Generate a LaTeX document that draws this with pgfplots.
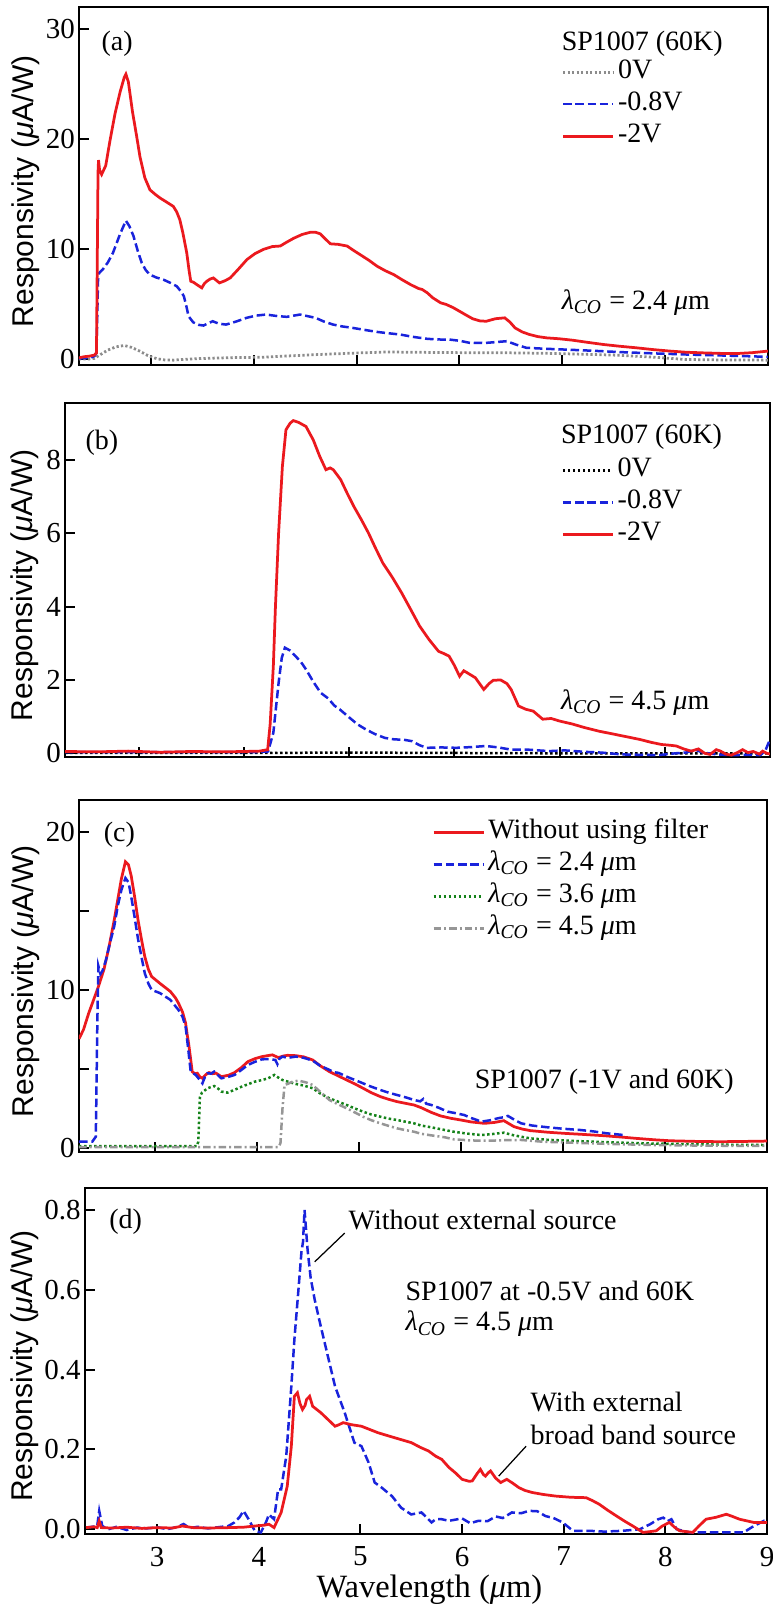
\documentclass[border=0pt]{standalone}
\usepackage{fontspec}
\setmainfont{Liberation Serif}
\setsansfont{Liberation Sans}
\usepackage{pgfplots}
\pgfplotsset{compat=1.18}

\definecolor{cred}{RGB}{235,25,30}
\definecolor{cblue}{RGB}{25,35,220}
\definecolor{cgray}{RGB}{140,140,140}
\definecolor{cgreen}{RGB}{20,130,25}
\definecolor{cgrayb}{RGB}{150,150,150}

\newcommand\fs{\fontsize{11.2}{13.4}\selectfont}
\newcommand\lco{\textit{λ}\textsubscript{\textit{CO}}}

\pgfplotsset{
  panel/.style={
    scale only axis, anchor=south west,
    xmax=9,
    font=\fs\rmfamily,
    /pgf/number format/assume math mode=true,
    tick label style={font=\fontsize{11.6}{13.6}\selectfont\rmfamily},
    tick align=inside, tick pos=left,
    major tick length=4pt,
    every tick/.style={black, line width=0.8pt},
    axis line style={line width=1pt},
    xtick={3,4,5,6,7,8}, xticklabels={},
    yticklabel style={inner xsep=1.5pt},
    ylabel={\fontsize{12}{14}\selectfont\sffamily Responsivity (\textit{μ}A/W)},
    legend image code/.code={\draw[##1] (0pt,0pt) -- (20pt,0pt);},
    legend cell align=left,
    legend style={draw=none, fill=none, inner sep=0pt, row sep=0pt,
      anchor=north west, font=\fs\rmfamily,
      nodes={inner xsep=1.4pt, inner ysep=0pt, text height=9pt, text depth=3.8pt}},
  },
  sred/.style={cred, line width=1.1pt},
  sblue/.style={cblue, line width=1pt, dash pattern=on 3.4pt off 1.5pt},
}

\begin{document}
\begin{tikzpicture}
\path[use as bounding box] (0,0) rectangle (308.8pt,642.8pt);

% (a)
\begin{axis}[panel, at={(31.6pt,496.8pt)}, width=275.6pt, height=143.2pt,
  xmin=2.30, ymin=-0.5, ymax=32, ytick={0,10,20,30}, yticklabels={0,10,20,30},
  ylabel style={at={(axis description cs:-0.077,0.485)}, anchor=center},
  legend style={at={(axis description cs:0.70,0.864)}}]
\addplot[cgray, line width=1.1pt, dash pattern=on 0.9pt off 0.9pt] coordinates {
(2.30,0.05) (2.40,0.05) (2.45,0.1) (2.50,0.4) (2.58,0.85) (2.66,1.15) (2.74,1.27) (2.81,1.1) (2.89,0.76) (2.97,0.35) (3.06,0.06) (3.14,-0.05) (3.22,-0.06) (3.30,0.0) (3.41,0.06) (3.6,0.12) (3.8,0.17) (4.07,0.2) (4.4,0.35) (4.7,0.48) (5.04,0.6) (5.3,0.68) (5.6,0.65) (6.0,0.62) (6.5,0.6) (6.9,0.55) (7.3,0.45) (7.56,0.38) (7.9,0.2) (8.2,0.0) (8.6,-0.05) (9.0,-0.06)};
\addplot[sblue] coordinates {
(2.30,0.1) (2.40,0.15) (2.45,0.3) (2.47,0.6) (2.485,7.2) (2.496,7.86) (2.53,8.16) (2.58,8.8) (2.63,9.67) (2.70,11.4) (2.756,12.6) (2.79,12.1) (2.83,11.2) (2.87,9.9) (2.91,8.77) (2.95,8.1) (2.99,7.7) (3.05,7.45) (3.12,7.25) (3.19,6.95) (3.25,6.65) (3.29,6.2) (3.32,5.74) (3.345,4.8) (3.365,3.93) (3.41,3.38) (3.46,3.15) (3.51,3.08) (3.56,3.3) (3.60,3.47) (3.66,3.25) (3.73,3.17) (3.83,3.45) (3.93,3.78) (4.02,3.98) (4.12,4.08) (4.22,3.95) (4.32,3.87) (4.45,4.08) (4.6,3.78) (4.68,3.45) (4.77,3.17) (4.86,3.0) (4.96,2.87) (5.08,2.68) (5.2,2.5) (5.31,2.38) (5.42,2.27) (5.55,2.05) (5.69,1.87) (5.82,1.81) (5.9,1.81) (6.0,1.7) (6.1,1.51) (6.25,1.5) (6.38,1.6) (6.46,1.66) (6.55,1.35) (6.65,1.06) (6.82,0.98) (7.0,0.91) (7.28,0.8) (7.56,0.67) (7.9,0.55) (8.21,0.45) (8.6,0.35) (9.0,0.24)};
\addplot[sred] coordinates {
(2.30,0.15) (2.35,0.25) (2.40,0.3) (2.45,0.4) (2.47,0.6) (2.485,17.0) (2.49,18.1) (2.50,17.2) (2.52,16.8) (2.56,17.6) (2.60,19.8) (2.65,22.3) (2.70,24.3) (2.74,25.6) (2.756,25.9) (2.78,25.2) (2.82,22.5) (2.86,20.3) (2.893,18.4) (2.94,16.5) (2.99,15.4) (3.04,15.0) (3.088,14.66) (3.15,14.3) (3.217,13.9) (3.25,13.4) (3.28,12.7) (3.31,11.5) (3.348,9.67) (3.37,8.1) (3.387,7.1) (3.415,7.0) (3.445,6.8) (3.494,6.5) (3.52,6.9) (3.543,7.1) (3.575,7.3) (3.607,7.4) (3.666,6.95) (3.72,7.15) (3.77,7.4) (3.85,8.2) (3.933,9.07) (4.01,9.6) (4.095,10.0) (4.18,10.25) (4.257,10.3) (4.32,10.65) (4.387,11.0) (4.47,11.35) (4.55,11.55) (4.60,11.55) (4.647,11.4) (4.70,10.9) (4.745,10.5) (4.82,10.45) (4.907,10.3) (4.97,9.9) (5.037,9.5) (5.12,9.0) (5.2,8.46) (5.28,8.05) (5.362,7.7) (5.44,7.25) (5.524,6.8) (5.6,6.45) (5.638,6.35) (5.687,6.05) (5.74,5.6) (5.817,5.14) (5.87,5.0) (5.94,4.7) (6.0,4.38) (6.07,4.0) (6.13,3.69) (6.2,3.5) (6.26,3.47) (6.35,3.7) (6.44,3.78) (6.49,3.4) (6.54,2.87) (6.61,2.5) (6.68,2.27) (6.76,2.08) (6.85,1.96) (6.97,1.88) (7.1,1.75) (7.25,1.55) (7.4,1.36) (7.56,1.2) (7.72,1.06) (7.88,0.9) (8.05,0.76) (8.2,0.66) (8.37,0.6) (8.55,0.55) (8.7,0.54) (8.85,0.62) (9.0,0.76)};
\legend{0V,-0.8V,-2V}
\node[anchor=center] at (axis cs:2.67,28.7) {(a)};
\node[anchor=west, inner sep=0pt] at (axis cs:6.99,28.7) {SP1007 (60K)};
\node[anchor=west, inner sep=0pt] at (axis cs:6.99,5.15) {\lco{} = 2.4 \textit{μ}m};
\end{axis}

% (b)
\begin{axis}[panel, at={(26pt,340pt)}, width=282pt, height=141.6pt,
  xmin=2.30, ymin=-0.1, ymax=9.55, ytick={0,2,4,6,8}, yticklabels={0,2,4,6,8},
  ylabel style={at={(axis description cs:-0.057,0.485)}, anchor=center},
  legend style={at={(axis description cs:0.7035,0.856)}}]
\addplot[black, line width=1pt, dash pattern=on 1pt off 1pt] coordinates {
(2.30,0.01) (3.0,0.01) (4.0,0.01) (5.0,0.02) (6.0,0.01) (7.0,0.0) (8.0,0.0) (9.0,0.0)};
\addplot[sblue] coordinates {
(2.30,0.03) (3.0,0.03) (3.6,0.03) (4.1,0.03) (4.23,0.05) (4.28,0.56) (4.33,1.92) (4.36,2.6) (4.39,2.88) (4.44,2.8) (4.49,2.65) (4.54,2.5) (4.59,2.29) (4.66,1.95) (4.73,1.65) (4.8,1.5) (4.86,1.3) (4.91,1.2) (5.0,0.98) (5.08,0.79) (5.16,0.65) (5.25,0.52) (5.34,0.42) (5.43,0.38) (5.52,0.37) (5.6,0.33) (5.67,0.22) (5.74,0.15) (5.88,0.16) (6.02,0.15) (6.16,0.17) (6.3,0.2) (6.42,0.16) (6.54,0.1) (6.7,0.1) (6.9,0.06) (7.05,0.08) (7.24,0.04) (7.4,0.02) (7.59,-0.03) (7.75,-0.04) (7.94,-0.05) (8.1,0.0) (8.2,0.02) (8.29,0.1) (8.36,0.02) (8.5,-0.03) (8.63,-0.05) (8.8,-0.04) (8.91,-0.05) (8.96,0.1) (9.0,0.38)};
\addplot[sred] coordinates {
(2.30,0.05) (2.6,0.04) (2.9,0.06) (3.2,0.03) (3.5,0.05) (3.8,0.04) (4.0,0.05) (4.15,0.06) (4.226,0.1) (4.25,0.8) (4.28,2.38) (4.30,4.0) (4.33,6.0) (4.366,7.82) (4.40,8.82) (4.44,9.0) (4.47,9.07) (4.52,9.02) (4.59,8.91) (4.66,8.54) (4.72,8.1) (4.78,7.73) (4.82,7.78) (4.85,7.73) (4.92,7.46) (4.98,7.1) (5.045,6.73) (5.12,6.35) (5.185,6.0) (5.25,5.6) (5.32,5.19) (5.41,4.8) (5.5,4.37) (5.58,3.95) (5.67,3.47) (5.76,3.1) (5.85,2.78) (5.9,2.72) (5.95,2.65) (6.0,2.4) (6.05,2.1) (6.09,2.25) (6.12,2.2) (6.2,2.06) (6.28,1.74) (6.33,1.9) (6.37,1.99) (6.44,2.0) (6.5,1.9) (6.54,1.74) (6.61,1.29) (6.68,1.2) (6.75,1.15) (6.84,0.93) (6.92,0.95) (7.0,0.88) (7.12,0.8) (7.24,0.7) (7.38,0.6) (7.52,0.52) (7.64,0.45) (7.76,0.38) (7.87,0.3) (7.97,0.24) (8.05,0.22) (8.11,0.2) (8.18,0.12) (8.25,0.06) (8.32,0.12) (8.38,0.0) (8.43,-0.03) (8.49,0.1) (8.53,0.06) (8.58,-0.02) (8.63,-0.05) (8.69,0.02) (8.74,0.1) (8.79,0.02) (8.84,0.05) (8.9,-0.02) (8.93,0.06) (8.97,0.0) (9.0,-0.02)};
\legend{0V,-0.8V,-2V}
\node[anchor=center] at (axis cs:2.65,8.46) {(b)};
\node[anchor=west, inner sep=0pt] at (axis cs:7.01,8.63) {SP1007 (60K)};
\node[anchor=west, inner sep=0pt] at (axis cs:7.01,1.39) {\lco{} = 4.5 \textit{μ}m};
\end{axis}

% (c)
\begin{axis}[panel, at={(31.6pt,182pt)}, width=275.2pt, height=140.8pt,
  xmin=2.255, ymin=-0.25, ymax=22, ytick={0,5,10,15,20}, yticklabels={0,,10,,20},
  ylabel style={at={(axis description cs:-0.077,0.485)}, anchor=center},
  legend style={at={(axis description cs:0.5126,0.955)}}]
\addplot[sred] coordinates {
(2.255,6.9) (2.30,7.5) (2.35,8.52) (2.40,9.4) (2.445,10.2) (2.50,11.3) (2.55,12.74) (2.60,14.4) (2.635,15.7) (2.67,17.0) (2.71,18.1) (2.74,17.9) (2.767,17.2) (2.80,15.9) (2.834,14.4) (2.87,13.1) (2.9,12.1) (2.935,11.3) (2.967,10.84) (3.05,10.4) (3.10,10.15) (3.15,9.9) (3.20,9.5) (3.23,9.16) (3.27,8.6) (3.3,7.9) (3.315,7.2) (3.33,6.6) (3.35,5.6) (3.365,4.83) (3.39,4.7) (3.415,4.73) (3.44,4.5) (3.465,4.41) (3.50,4.65) (3.53,4.77) (3.565,4.7) (3.6,4.73) (3.65,4.51) (3.72,4.6) (3.78,4.77) (3.85,5.1) (3.91,5.46) (3.98,5.65) (4.05,5.78) (4.15,5.89) (4.21,5.72) (4.26,5.82) (4.3,5.86) (4.38,5.84) (4.46,5.76) (4.545,5.57) (4.62,5.2) (4.71,4.83) (4.8,4.55) (4.88,4.3) (4.96,4.05) (5.04,3.78) (5.12,3.5) (5.21,3.25) (5.29,3.08) (5.375,2.93) (5.46,2.82) (5.54,2.72) (5.61,2.55) (5.71,2.25) (5.8,2.03) (5.9,1.88) (6.0,1.77) (6.1,1.65) (6.23,1.56) (6.33,1.62) (6.42,1.73) (6.52,1.35) (6.6,1.2) (6.68,1.1) (6.85,1.0) (7.01,0.93) (7.2,0.86) (7.4,0.78) (7.56,0.7) (7.72,0.61) (7.9,0.52) (8.05,0.46) (8.3,0.42) (8.54,0.4) (8.8,0.42) (9.0,0.44)};
\addplot[sblue] coordinates {
(2.255,0.4) (2.385,0.4) (2.42,0.72) (2.435,8.0) (2.445,11.5) (2.465,11.0) (2.485,11.2) (2.52,11.9) (2.55,12.74) (2.60,14.0) (2.635,15.3) (2.67,16.3) (2.71,17.07) (2.74,16.8) (2.767,15.9) (2.80,14.6) (2.834,13.2) (2.87,12.0) (2.9,11.05) (2.935,10.4) (2.967,10.0) (3.05,9.79) (3.15,9.37) (3.23,8.73) (3.27,8.3) (3.3,7.68) (3.325,6.3) (3.35,4.83) (3.4,4.62) (3.44,4.3) (3.465,4.09) (3.49,4.5) (3.515,4.73) (3.55,4.7) (3.58,4.83) (3.65,4.41) (3.72,4.5) (3.78,4.62) (3.85,4.95) (3.91,5.25) (3.98,5.45) (4.05,5.61) (4.12,5.62) (4.18,5.57) (4.2,5.3) (4.22,5.65) (4.25,5.78) (4.3,5.7) (4.38,5.78) (4.46,5.7) (4.545,5.53) (4.62,5.2) (4.71,4.94) (4.75,4.8) (4.8,4.75) (4.88,4.51) (4.96,4.3) (5.04,4.09) (5.12,3.88) (5.21,3.67) (5.29,3.5) (5.375,3.35) (5.46,3.2) (5.54,3.04) (5.6,2.95) (5.63,3.1) (5.66,2.8) (5.71,2.72) (5.78,2.55) (5.87,2.3) (5.95,2.2) (6.03,2.09) (6.1,1.9) (6.2,1.67) (6.28,1.75) (6.36,1.88) (6.42,1.95) (6.46,2.03) (6.52,1.8) (6.59,1.56) (6.7,1.42) (6.85,1.31) (7.0,1.22) (7.17,1.14) (7.3,1.05) (7.43,0.93) (7.6,0.82)};
\addplot[cgreen, line width=1pt, dash pattern=on 1pt off 1pt] coordinates {
(2.255,0.12) (2.6,0.12) (3.0,0.12) (3.3,0.12) (3.41,0.12) (3.425,0.4) (3.44,3.2) (3.46,3.5) (3.515,3.78) (3.58,3.92) (3.62,3.75) (3.65,3.57) (3.71,3.5) (3.78,3.68) (3.85,3.88) (3.98,4.2) (4.05,4.3) (4.11,4.41) (4.17,4.62) (4.21,4.45) (4.25,4.3) (4.38,4.05) (4.46,3.95) (4.545,3.78) (4.62,3.45) (4.71,3.14) (4.8,2.92) (4.88,2.72) (4.96,2.5) (5.04,2.3) (5.12,2.12) (5.21,1.98) (5.29,1.86) (5.375,1.77) (5.46,1.66) (5.54,1.56) (5.61,1.42) (5.71,1.31) (5.84,1.14) (5.93,1.03) (6.05,0.92) (6.2,0.82) (6.3,0.88) (6.42,0.97) (6.52,0.8) (6.68,0.61) (6.85,0.52) (7.07,0.46) (7.3,0.4) (7.56,0.34) (7.9,0.28) (8.21,0.25) (8.6,0.21) (8.99,0.19)};
\addplot[cgrayb, line width=1pt, dash pattern=on 3pt off 1.2pt on 0.8pt off 1.2pt] coordinates {
(2.255,0.06) (3.0,0.06) (3.8,0.06) (4.21,0.06) (4.23,0.3) (4.25,2.5) (4.27,3.99) (4.3,4.05) (4.35,4.2) (4.41,4.26) (4.48,4.15) (4.545,3.99) (4.62,3.55) (4.71,3.04) (4.8,2.75) (4.88,2.51) (4.96,2.25) (5.04,1.98) (5.12,1.76) (5.21,1.56) (5.29,1.4) (5.375,1.24) (5.46,1.13) (5.54,1.03) (5.61,0.9) (5.71,0.8) (5.84,0.68) (5.93,0.55) (6.1,0.48) (6.26,0.46) (6.45,0.5) (6.59,0.51) (6.8,0.4) (7.07,0.34) (7.5,0.25) (7.89,0.19) (8.4,0.15) (8.99,0.13)};
\legend{Without using filter,\lco{} = 2.4 \textit{μ}m,\lco{} = 3.6 \textit{μ}m,\lco{} = 4.5 \textit{μ}m}
\node[anchor=center] at (axis cs:2.65,19.8) {(c)};
\node[anchor=west, inner sep=0pt] at (axis cs:6.13,4.2) {SP1007 (-1V and 60K)};
\end{axis}

% (d)
\begin{axis}[panel, at={(34pt,29.2pt)}, width=272.8pt, height=138.4pt,
  xmin=2.29, ymin=-0.012, ymax=0.855,
  xtick={3,4,5,6,7,8,9}, xticklabels={3,4,5,6,7,8,9},
  xticklabel style={inner ysep=5pt},
  ytick={0,0.2,0.4,0.6,0.8}, yticklabels={0.0,0.2,0.4,0.6,0.8},
  ylabel style={at={(axis description cs:-0.088,0.485)}, anchor=center},
  xlabel={\fontsize{13}{15}\selectfont Wavelength (\textit{μ}m)},
  xlabel style={at={(axis description cs:0.505,0)}, anchor=base, yshift=-25.2pt}]
\addplot[sblue] coordinates {
(2.30,0.004) (2.36,0.006) (2.41,0.008) (2.43,0.046) (2.46,0.008) (2.52,0.0) (2.6,0.006) (2.7,-0.002) (2.8,0.004) (2.9,0.002) (3.0,0.005) (3.1,0.0) (3.2,0.006) (3.26,0.013) (3.32,0.003) (3.4,0.006) (3.5,0.002) (3.6,0.005) (3.7,0.008) (3.76,0.017) (3.81,0.03) (3.85,0.046) (3.9,0.025) (3.96,-0.004) (4.02,-0.008) (4.07,0.017) (4.1,0.037) (4.15,0.025) (4.19,0.1) (4.22,0.1) (4.27,0.183) (4.32,0.358) (4.35,0.475) (4.39,0.6) (4.42,0.696) (4.435,0.72) (4.45,0.8) (4.48,0.7) (4.51,0.63) (4.55,0.575) (4.61,0.508) (4.68,0.433) (4.75,0.358) (4.845,0.292) (4.94,0.217) (5.01,0.208) (5.08,0.167) (5.14,0.117) (5.21,0.104) (5.31,0.083) (5.4,0.054) (5.5,0.037) (5.6,0.042) (5.7,0.017) (5.74,0.025) (5.8,0.025) (5.87,0.021) (6.0,0.027) (6.08,0.015) (6.16,0.021) (6.25,0.02) (6.33,0.032) (6.4,0.028) (6.49,0.042) (6.58,0.04) (6.66,0.046) (6.74,0.045) (6.82,0.033) (6.9,0.028) (6.99,0.017) (7.09,-0.004) (7.25,-0.004) (7.4,-0.006) (7.58,-0.004) (7.75,0.0) (7.85,0.0125) (7.93,0.025) (7.98,0.029) (8.02,0.02) (8.06,0.025) (8.11,0.0) (8.24,-0.008) (8.4,-0.008) (8.57,-0.008) (8.77,-0.008) (8.87,0.008) (8.97,0.021) (9.0,0.017)};
\addplot[sred] coordinates {
(2.30,0.004) (2.38,0.006) (2.41,0.004) (2.43,0.02) (2.45,0.004) (2.55,0.003) (2.7,0.005) (2.85,0.002) (3.0,0.004) (3.15,0.003) (3.25,0.008) (3.35,0.004) (3.5,0.003) (3.7,0.004) (3.85,0.005) (3.96,0.008) (4.05,0.01) (4.1,0.0125) (4.15,0.004) (4.22,0.042) (4.28,0.108) (4.32,0.208) (4.35,0.333) (4.38,0.342) (4.405,0.315) (4.43,0.3) (4.455,0.31) (4.47,0.325) (4.5,0.333) (4.53,0.308) (4.57,0.3) (4.61,0.292) (4.68,0.275) (4.75,0.258) (4.79,0.262) (4.83,0.267) (4.91,0.262) (5.01,0.258) (5.09,0.25) (5.17,0.242) (5.26,0.235) (5.34,0.229) (5.42,0.223) (5.5,0.217) (5.59,0.205) (5.67,0.196) (5.74,0.183) (5.8,0.175) (5.87,0.155) (5.94,0.14) (6.0,0.125) (6.07,0.12) (6.1,0.121) (6.15,0.14) (6.18,0.15) (6.21,0.137) (6.23,0.133) (6.26,0.142) (6.28,0.146) (6.33,0.128) (6.38,0.117) (6.44,0.125) (6.5,0.115) (6.56,0.104) (6.62,0.097) (6.69,0.092) (6.8,0.087) (6.92,0.083) (7.07,0.08) (7.22,0.079) (7.28,0.072) (7.35,0.0625) (7.43,0.048) (7.52,0.033) (7.6,0.02) (7.68,0.008) (7.78,-0.008) (7.85,-0.006) (7.91,-0.004) (7.97,0.008) (8.04,0.017) (8.09,0.005) (8.14,-0.004) (8.27,-0.008) (8.33,0.008) (8.4,0.025) (8.5,0.03) (8.6,0.0375) (8.66,0.032) (8.73,0.025) (8.87,0.017) (9.0,0.017)};
\node[anchor=center] at (axis cs:2.69,0.77) {(d)};
\draw[black, line width=0.5pt] (axis cs:4.55,0.67) -- (axis cs:4.845,0.742);
\node[anchor=west, inner sep=0pt] at (axis cs:4.88,0.775) {Without external source};
\node[anchor=west, inner sep=0pt] at (axis cs:5.44,0.597) {SP1007 at -0.5V and 60K};
\node[anchor=west, inner sep=0pt] at (axis cs:5.44,0.514) {\lco{} = 4.5 \textit{μ}m};
\node[anchor=west, inner sep=0pt] at (axis cs:6.67,0.32) {With external};
\node[anchor=west, inner sep=0pt] at (axis cs:6.67,0.237) {broad band source};
\draw[black, line width=0.5pt] (axis cs:6.36,0.133) -- (axis cs:6.63,0.208);
\end{axis}
\end{tikzpicture}
\end{document}
